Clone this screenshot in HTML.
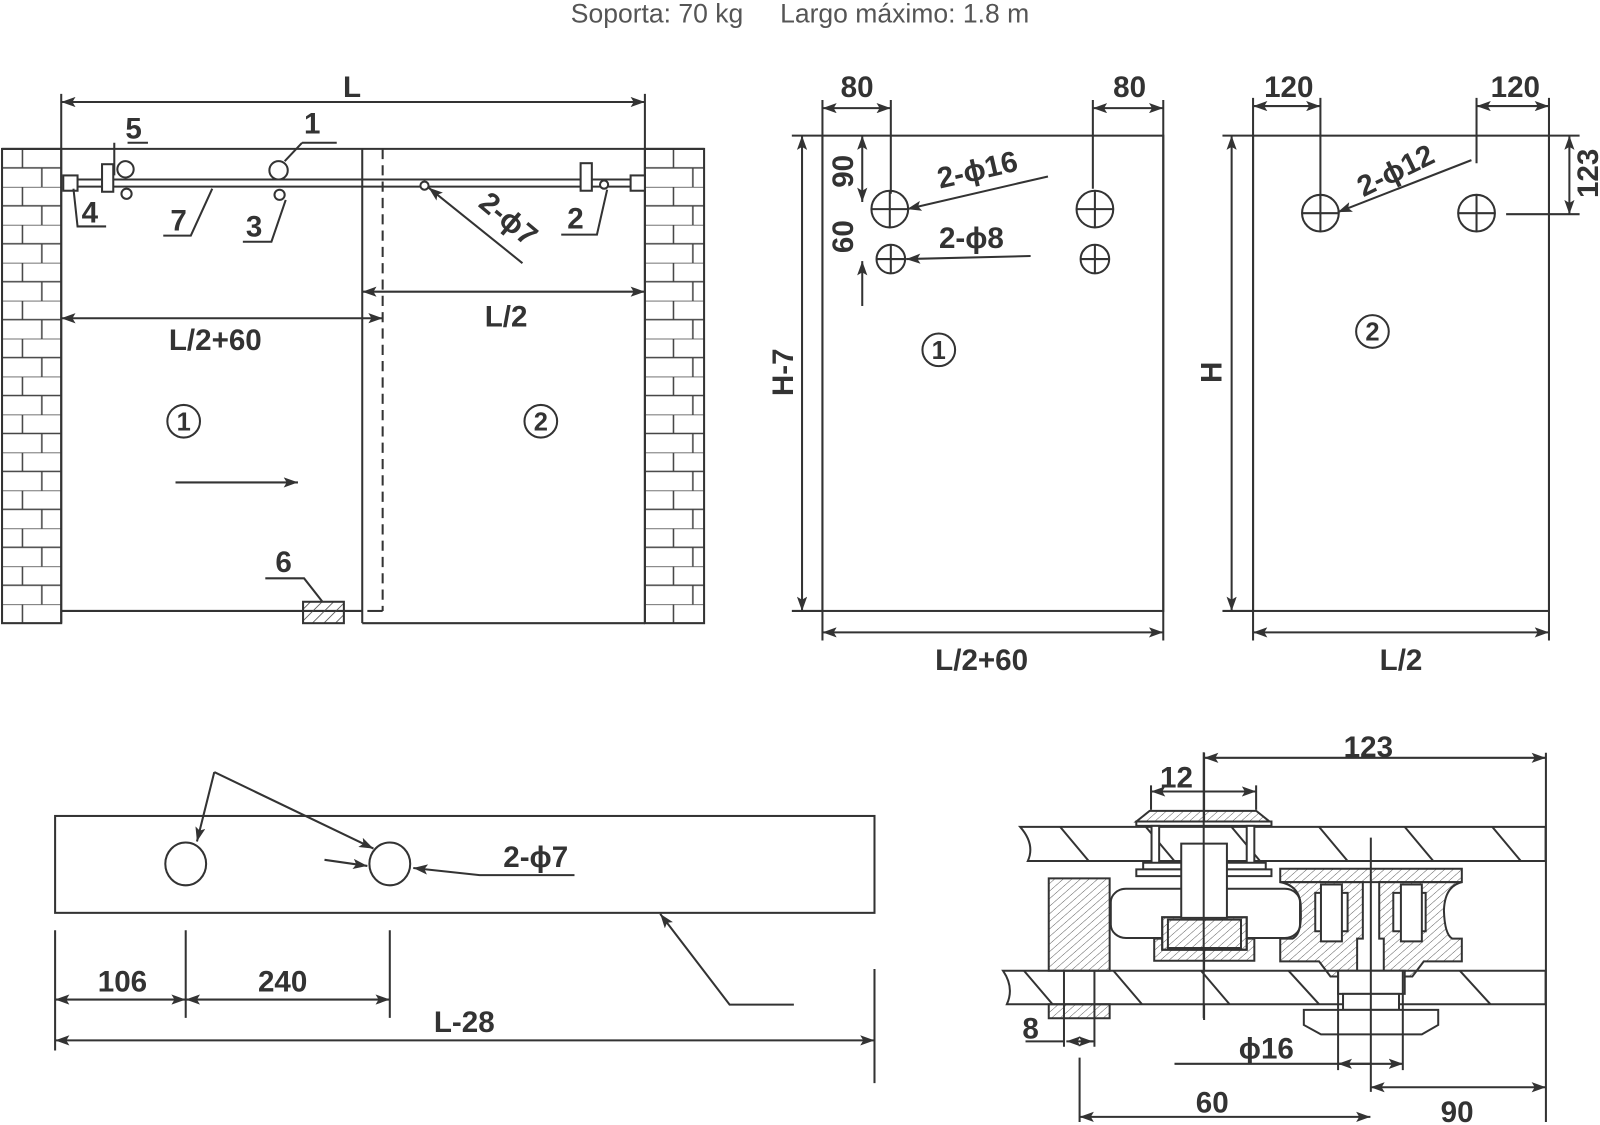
<!DOCTYPE html>
<html><head><meta charset="utf-8"><style>
html,body{margin:0;padding:0;background:#fff;width:1600px;height:1125px;overflow:hidden}
svg{display:block}
text{font-family:"Liberation Sans",sans-serif;fill:#333}
.b{font-weight:bold;font-size:29px}
</style></head><body>
<svg width="1600" height="1125" viewBox="0 0 1568 1103" preserveAspectRatio="none" xmlns="http://www.w3.org/2000/svg">
<defs>
<marker id="a" viewBox="0 0 14 10" refX="14" refY="5" markerWidth="14" markerHeight="10" markerUnits="userSpaceOnUse" orient="auto-start-reverse"><path d="M0,0 L14,5 L0,10 L3,5 Z" fill="#333"/></marker>
<pattern id="brick" width="58" height="37.2" patternUnits="userSpaceOnUse" patternTransform="translate(2,146)">
<path d="M0,0H58M0,18.6H58M20,0V18.6M39,18.6V37.2" stroke="#444" stroke-width="1.5" fill="none"/></pattern>
<pattern id="h" width="8" height="8" patternUnits="userSpaceOnUse" patternTransform="rotate(45)"><line x1="0" y1="0" x2="0" y2="8" stroke="#444" stroke-width="1.6"/></pattern>
<pattern id="hz" width="16" height="16" patternUnits="userSpaceOnUse" patternTransform="rotate(45)"><line x1="0" y1="0" x2="0" y2="16" stroke="#444" stroke-width="2.4"/></pattern>
</defs>
<text x="784" y="22" text-anchor="middle" font-size="26" style="fill:#555;white-space:pre" xml:space="preserve">Soporta: 70 kg     Largo máximo: 1.8 m</text>

<g stroke="#333" stroke-width="2" fill="none">
<rect x="2" y="146" width="58" height="465" fill="url(#brick)"/>
<rect x="632" y="146" width="58" height="465" fill="url(#brick)"/>
<line x1="2" y1="146" x2="690" y2="146"/>
<line x1="60" y1="92" x2="60" y2="611"/><line x1="632" y1="92" x2="632" y2="611"/>
<line x1="60" y1="100" x2="632" y2="100" marker-start="url(#a)" marker-end="url(#a)"/>
<line x1="355" y1="146" x2="355" y2="611"/>
<line x1="60" y1="599" x2="355" y2="599"/>
<line x1="355" y1="611" x2="632" y2="611"/>
<line x1="375" y1="146" x2="375" y2="599" stroke-dasharray="10,6"/>
<line x1="360" y1="599" x2="375" y2="599"/>
<line x1="76" y1="176" x2="618" y2="176"/><line x1="76" y1="183" x2="618" y2="183"/>
<rect x="62" y="172" width="14" height="15" fill="#fff"/><rect x="618" y="172" width="14" height="15" fill="#fff"/>
<rect x="100" y="161" width="11" height="27" fill="#fff"/>
<circle cx="123" cy="166" r="8" fill="#fff"/><circle cx="124" cy="190" r="5"/>
<circle cx="273" cy="167" r="9" fill="#fff"/><circle cx="274" cy="191" r="5"/>
<rect x="569" y="160" width="11" height="27" fill="#fff"/>
<circle cx="592" cy="181" r="4" fill="#fff"/><circle cx="416" cy="182" r="4" fill="#fff"/>
<path d="M125,140H145M112,140V172"/>
<path d="M296,140H330M296,140L279,158"/>
<path d="M104,222H76L72,185"/>
<path d="M160,231H187L208,185"/>
<path d="M238,237H266L280,196"/>
<path d="M550,230H585L595,186"/>
<line x1="512" y1="258" x2="420" y2="184" marker-end="url(#a)"/>
<line x1="355" y1="286" x2="632" y2="286" marker-start="url(#a)" marker-end="url(#a)"/>
<line x1="60" y1="312" x2="375" y2="312" marker-start="url(#a)" marker-end="url(#a)"/>
<line x1="172" y1="473" x2="292" y2="473" marker-end="url(#a)"/>
<path d="M260,567H298L316,590"/>
<rect x="297" y="590" width="40" height="21" fill="url(#h)"/>
<circle cx="180" cy="413" r="16"/><circle cx="530" cy="413" r="16"/>

<rect x="806" y="133" width="334" height="466"/>
<line x1="806" y1="98" x2="806" y2="628"/><line x1="1140" y1="98" x2="1140" y2="628"/>
<line x1="873" y1="98" x2="873" y2="190"/><line x1="1071" y1="98" x2="1071" y2="185"/>
<line x1="806" y1="106" x2="873" y2="106" marker-start="url(#a)" marker-end="url(#a)"/>
<line x1="1071" y1="106" x2="1140" y2="106" marker-start="url(#a)" marker-end="url(#a)"/>
<line x1="776" y1="133" x2="806" y2="133"/><line x1="776" y1="599" x2="806" y2="599"/>
<line x1="786" y1="133" x2="786" y2="599" marker-start="url(#a)" marker-end="url(#a)"/>
<line x1="845" y1="133" x2="845" y2="198" marker-start="url(#a)" marker-end="url(#a)"/>
<line x1="845" y1="300" x2="845" y2="256" marker-end="url(#a)"/>
<circle cx="872" cy="205" r="18"/><path d="M854,205H890M872,187V223"/>
<circle cx="1073" cy="205" r="18"/><path d="M1055,205H1091M1073,187V223"/>
<circle cx="873" cy="254" r="14"/><path d="M859,254H887M873,240V268"/>
<circle cx="1073" cy="254" r="14"/><path d="M1059,254H1087M1073,240V268"/>
<line x1="1027" y1="173" x2="889" y2="205" marker-end="url(#a)"/>
<line x1="1010" y1="251" x2="888" y2="254" marker-end="url(#a)"/>
<line x1="806" y1="620" x2="1140" y2="620" marker-start="url(#a)" marker-end="url(#a)"/>
<circle cx="920" cy="343" r="16"/>

<rect x="1228" y="133" width="290" height="466"/>
<line x1="1228" y1="96" x2="1228" y2="628"/><line x1="1518" y1="96" x2="1518" y2="628"/>
<line x1="1294" y1="96" x2="1294" y2="195"/><line x1="1447" y1="96" x2="1447" y2="160"/>
<line x1="1228" y1="104" x2="1294" y2="104" marker-start="url(#a)" marker-end="url(#a)"/>
<line x1="1447" y1="104" x2="1518" y2="104" marker-start="url(#a)" marker-end="url(#a)"/>
<line x1="1518" y1="133" x2="1548" y2="133"/><line x1="1476" y1="210" x2="1548" y2="210"/>
<line x1="1538" y1="133" x2="1538" y2="210" marker-start="url(#a)" marker-end="url(#a)"/>
<line x1="1198" y1="133" x2="1228" y2="133"/><line x1="1198" y1="599" x2="1228" y2="599"/>
<line x1="1207" y1="133" x2="1207" y2="599" marker-start="url(#a)" marker-end="url(#a)"/>
<circle cx="1294" cy="209" r="18"/><path d="M1276,209H1312M1294,191V227"/>
<circle cx="1447" cy="209" r="18"/><path d="M1429,209H1465M1447,191V227"/>
<line x1="1442" y1="157" x2="1311" y2="208" marker-end="url(#a)"/>
<line x1="1228" y1="620" x2="1518" y2="620" marker-start="url(#a)" marker-end="url(#a)"/>
<circle cx="1345" cy="325" r="16"/>

<rect x="54" y="800" width="803" height="95"/>
<ellipse cx="182" cy="847" rx="20" ry="21"/><ellipse cx="382" cy="847" rx="20" ry="21"/>
<path d="M210,757L193,825" marker-end="url(#a)"/>
<path d="M210,757L366,832" marker-end="url(#a)"/>
<path d="M318,843L360,849" marker-end="url(#a)"/>
<path d="M563,858H470L405,851" marker-end="url(#a)"/>
<path d="M778,985H715L647,896" marker-end="url(#a)"/>
<line x1="54" y1="912" x2="54" y2="1030"/><line x1="182" y1="912" x2="182" y2="998"/>
<line x1="382" y1="912" x2="382" y2="998"/><line x1="857" y1="950" x2="857" y2="1062"/>
<line x1="54" y1="980" x2="182" y2="980" marker-start="url(#a)" marker-end="url(#a)"/>
<line x1="182" y1="980" x2="382" y2="980" marker-start="url(#a)" marker-end="url(#a)"/>
<line x1="54" y1="1020" x2="857" y2="1020" marker-start="url(#a)" marker-end="url(#a)"/>

<line x1="1180" y1="738" x2="1180" y2="1000"/>
<line x1="1515" y1="738" x2="1515" y2="1100"/>
<line x1="1180" y1="743" x2="1515" y2="743" marker-start="url(#a)" marker-end="url(#a)"/>
<line x1="1128" y1="770" x2="1128" y2="794"/><line x1="1231" y1="770" x2="1231" y2="794"/>
<line x1="1128" y1="776" x2="1231" y2="776" marker-start="url(#a)" marker-end="url(#a)"/>
<line x1="1005" y1="1021" x2="1042" y2="1021"/>
<line x1="1073" y1="1021" x2="1045" y2="1021" marker-end="url(#a)"/>
<line x1="1058" y1="1021" x2="1071" y2="1021" marker-end="url(#a)"/>
<line x1="1058" y1="1037" x2="1058" y2="1100"/>
<line x1="1151" y1="1043" x2="1311" y2="1043"/>
<line x1="1343" y1="1043" x2="1311" y2="1043" marker-end="url(#a)"/>
<line x1="1311" y1="1043" x2="1375" y2="1043" marker-end="url(#a)"/>
<line x1="1058" y1="1095" x2="1343" y2="1095" marker-start="url(#a)" marker-end="url(#a)"/>
<line x1="1343" y1="1066" x2="1515" y2="1066" marker-start="url(#a)" marker-end="url(#a)"/>
</g>

<g transform="translate(983,713) scale(0.3731,0.328)" stroke="#333" stroke-width="2" fill="none">
<path vector-effect="non-scaling-stroke" d="M45,298H1425V400H65Q85,350 45,298Z" fill="#fff"/>
<path vector-effect="non-scaling-stroke" d="M150,298L225,400M375,298L450,400M600,298L675,400M830,298L905,400M1055,298L1130,400M1285,298L1360,400"/>
<path vector-effect="non-scaling-stroke" d="M0,728H1425V828H10Q30,778 0,728Z" fill="#fff"/>
<path vector-effect="non-scaling-stroke" d="M55,728L130,828M290,728L365,828M520,728L595,828M750,728L830,828M1200,728L1280,828"/>
<rect vector-effect="non-scaling-stroke" x="283" y="483" width="497" height="147" rx="40" fill="#fff"/>
<polygon vector-effect="non-scaling-stroke" points="385,250 665,250 700,282 350,282" fill="url(#hz)"/>
<rect vector-effect="non-scaling-stroke" x="350" y="282" width="355" height="13" fill="#fff"/>
<rect vector-effect="non-scaling-stroke" x="390" y="295" width="20" height="115" fill="#fff"/>
<rect vector-effect="non-scaling-stroke" x="640" y="295" width="20" height="115" fill="#fff"/>
<rect vector-effect="non-scaling-stroke" x="368" y="405" width="322" height="20" fill="#fff"/>
<rect vector-effect="non-scaling-stroke" x="350" y="425" width="355" height="20" fill="#fff"/>
<rect vector-effect="non-scaling-stroke" x="397" y="632" width="263" height="66" fill="url(#hz)"/>
<rect vector-effect="non-scaling-stroke" x="418" y="568" width="222" height="97" fill="#fff"/>
<rect vector-effect="non-scaling-stroke" x="418" y="568" width="222" height="97" fill="url(#hz)"/>
<rect vector-effect="non-scaling-stroke" x="433" y="575" width="192" height="85"/>
<rect vector-effect="non-scaling-stroke" x="468" y="348" width="120" height="222" fill="#fff"/>
<rect vector-effect="non-scaling-stroke" x="120" y="452" width="160" height="276" fill="url(#hz)"/>
<rect vector-effect="non-scaling-stroke" x="120" y="828" width="160" height="42" fill="url(#hz)"/>
<path vector-effect="non-scaling-stroke" d="M160,728V955M240,728V955"/>
<rect vector-effect="non-scaling-stroke" x="728" y="423" width="477" height="40" fill="url(#hz)"/>
<path vector-effect="non-scaling-stroke" d="M728,463H945V632H930V745H860L830,700H728V632H760Q785,620 782,548Q785,475 728,463Z" fill="url(#hz)"/>
<path vector-effect="non-scaling-stroke" d="M1205,463H988V632H1000V745H1075L1105,700H1205V632H1180Q1160,620 1158,548Q1160,475 1205,463Z" fill="url(#hz)"/>
<rect vector-effect="non-scaling-stroke" x="820" y="495" width="85" height="115" fill="#fff"/>
<rect vector-effect="non-scaling-stroke" x="835" y="470" width="55" height="170" fill="#fff"/>
<rect vector-effect="non-scaling-stroke" x="1025" y="495" width="85" height="115" fill="#fff"/>
<rect vector-effect="non-scaling-stroke" x="1045" y="470" width="55" height="170" fill="#fff"/>
<rect vector-effect="non-scaling-stroke" x="880" y="728" width="175" height="69" fill="#fff"/>
<rect vector-effect="non-scaling-stroke" x="893" y="797" width="147" height="48" fill="#fff"/>
<polygon vector-effect="non-scaling-stroke" points="790,845 1143,845 1143,890 1100,918 835,918 790,890" fill="#fff"/>
<path vector-effect="non-scaling-stroke" d="M880,728V1025M1050,728V1025M966,330V1090M527,75V870"/>
</g>

<g class="b">
<text x="345" y="95" text-anchor="middle">L</text>
<text x="131" y="136" text-anchor="middle">5</text>
<text x="306" y="131" text-anchor="middle">1</text>
<text x="88" y="218" text-anchor="middle">4</text>
<text x="175" y="226" text-anchor="middle">7</text>
<text x="249" y="232" text-anchor="middle">3</text>
<text x="564" y="224" text-anchor="middle">2</text>
<text transform="translate(492,222) rotate(40)" text-anchor="middle">2-ϕ7</text>
<text x="496" y="320" text-anchor="middle">L/2</text>
<text x="211" y="343" text-anchor="middle">L/2+60</text>
<text x="278" y="561" text-anchor="middle">6</text>
<text x="180" y="422" text-anchor="middle" font-size="25">1</text>
<text x="530" y="422" text-anchor="middle" font-size="25">2</text>
<text x="840" y="95" text-anchor="middle">80</text>
<text x="1107" y="95" text-anchor="middle">80</text>
<text transform="translate(836,168) rotate(-90)" text-anchor="middle">90</text>
<text transform="translate(836,232) rotate(-90)" text-anchor="middle">60</text>
<text transform="translate(777,365) rotate(-90)" text-anchor="middle">H-7</text>
<text transform="translate(960,176) rotate(-13)" text-anchor="middle">2-ϕ16</text>
<text x="952" y="243" text-anchor="middle">2-ϕ8</text>
<text x="920" y="352" text-anchor="middle" font-size="25">1</text>
<text x="962" y="657" text-anchor="middle">L/2+60</text>
<text x="1263" y="95" text-anchor="middle">120</text>
<text x="1485" y="95" text-anchor="middle">120</text>
<text transform="translate(1566,170) rotate(-90)" text-anchor="middle">123</text>
<text transform="translate(1197,365) rotate(-90)" text-anchor="middle">H</text>
<text transform="translate(1372,176) rotate(-26)" text-anchor="middle">2-ϕ12</text>
<text x="1345" y="334" text-anchor="middle" font-size="25">2</text>
<text x="1373" y="657" text-anchor="middle">L/2</text>
<text x="525" y="850" text-anchor="middle">2-ϕ7</text>
<text x="120" y="972" text-anchor="middle">106</text>
<text x="277" y="972" text-anchor="middle">240</text>
<text x="455" y="1012" text-anchor="middle">L-28</text>
<text x="1341" y="742" text-anchor="middle">123</text>
<text x="1153" y="772" text-anchor="middle">12</text>
<text x="1010" y="1018" text-anchor="middle">8</text>
<text x="1241" y="1038" text-anchor="middle">ϕ16</text>
<text x="1188" y="1091" text-anchor="middle">60</text>
<text x="1428" y="1100" text-anchor="middle">90</text>
</g>
</svg>
</body></html>
